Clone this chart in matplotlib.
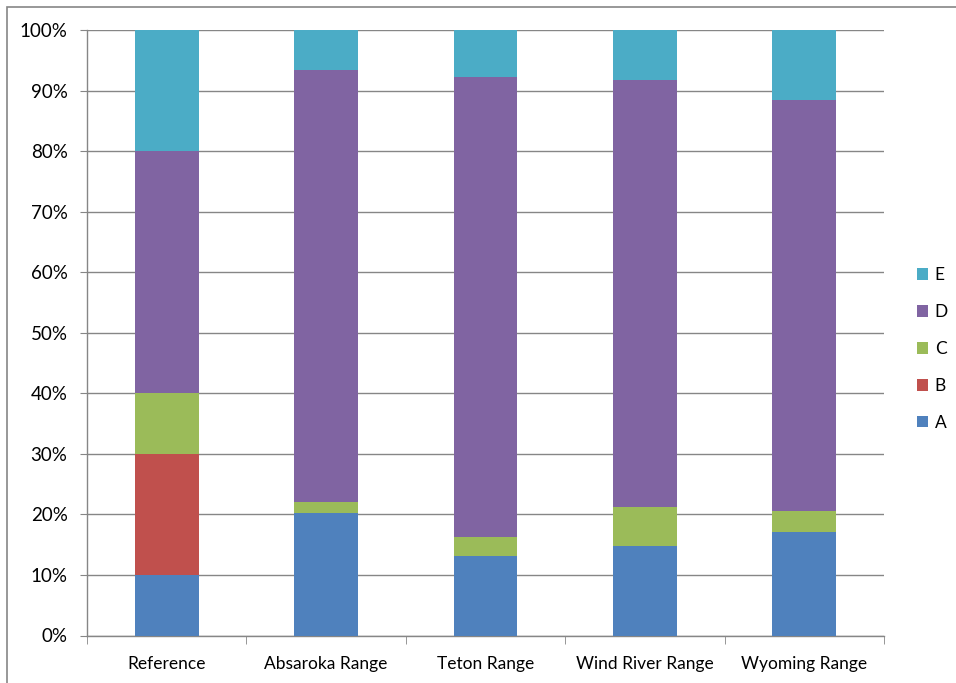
import matplotlib.pyplot as plt
from matplotlib.patches import Rectangle
from matplotlib.ticker import PercentFormatter, FixedLocator

plt.rcParams['font.family'] = ['Lato', 'DejaVu Sans']

categories = ['Reference', 'Absaroka Range', 'Teton Range', 'Wind River Range', 'Wyoming Range']
series_names = ['A', 'B', 'C', 'D', 'E']
A = [10.0, 20.2, 13.2, 14.8, 17.1]
B = [20.0, 0.0, 0.0, 0.0, 0.0]
C = [10.0, 1.8, 3.1, 6.5, 3.4]
D = [40.0, 71.4, 76.0, 70.5, 67.9]
E = [20.0, 6.6, 7.7, 8.2, 11.6]
colors = ['#4F81BD', '#C0504D', '#9BBB59', '#8064A2', '#4BACC6']

fig = plt.figure(figsize=(9.56, 6.83), dpi=100)
ax = fig.add_axes([87/956, 1-635.5/683, 797/956, 605.5/683])

x = list(range(len(categories)))
bottom = [0.0]*len(categories)
handles = []
for name, vals, col in zip(series_names, [A, B, C, D, E], colors):
    h = ax.bar(x, vals, 0.4, bottom=bottom, color=col, label=name, zorder=3,
               edgecolor='none')
    handles.append(h)
    bottom = [b + v for b, v in zip(bottom, vals)]

ax.set_xlim(-0.5, len(categories)-0.5)
ax.set_ylim(0, 100)
ax.yaxis.set_major_locator(FixedLocator(range(0, 101, 10)))
ax.yaxis.set_major_formatter(PercentFormatter(decimals=0))
ax.grid(axis='y', color='#868686', linewidth=1, zorder=0)

ax.set_xticks(x)
ax.set_xticklabels(categories)
ax.set_xticks([i + 0.5 for i in range(-1, len(categories))], minor=True)
ax.tick_params(axis='x', which='major', length=0, pad=15, labelsize=12.5, colors='#000000')
ax.tick_params(axis='x', which='minor', length=6, color='#868686', direction='out')
ax.tick_params(axis='y', length=5, color='#868686', labelsize=13.5, pad=9)

for s in ['top', 'right']:
    ax.spines[s].set_visible(False)
for s in ['left', 'bottom']:
    ax.spines[s].set_color('#868686')
    ax.spines[s].set_linewidth(1)

leg = fig.legend(handles[::-1], series_names[::-1], loc='center left',
                 bbox_to_anchor=(901/956, 1-349/683), frameon=False, fontsize=12.5,
                 handlelength=0.65, handleheight=0.65, handletextpad=0.4,
                 labelspacing=1.2)

# chart outer border
fig.patches.append(Rectangle((7/956, -0.05), 1.1, 1-7/683+0.05, transform=fig.transFigure,
                             fill=False, edgecolor='#868686', linewidth=1.2))

fig.savefig('out.png', dpi=100)
